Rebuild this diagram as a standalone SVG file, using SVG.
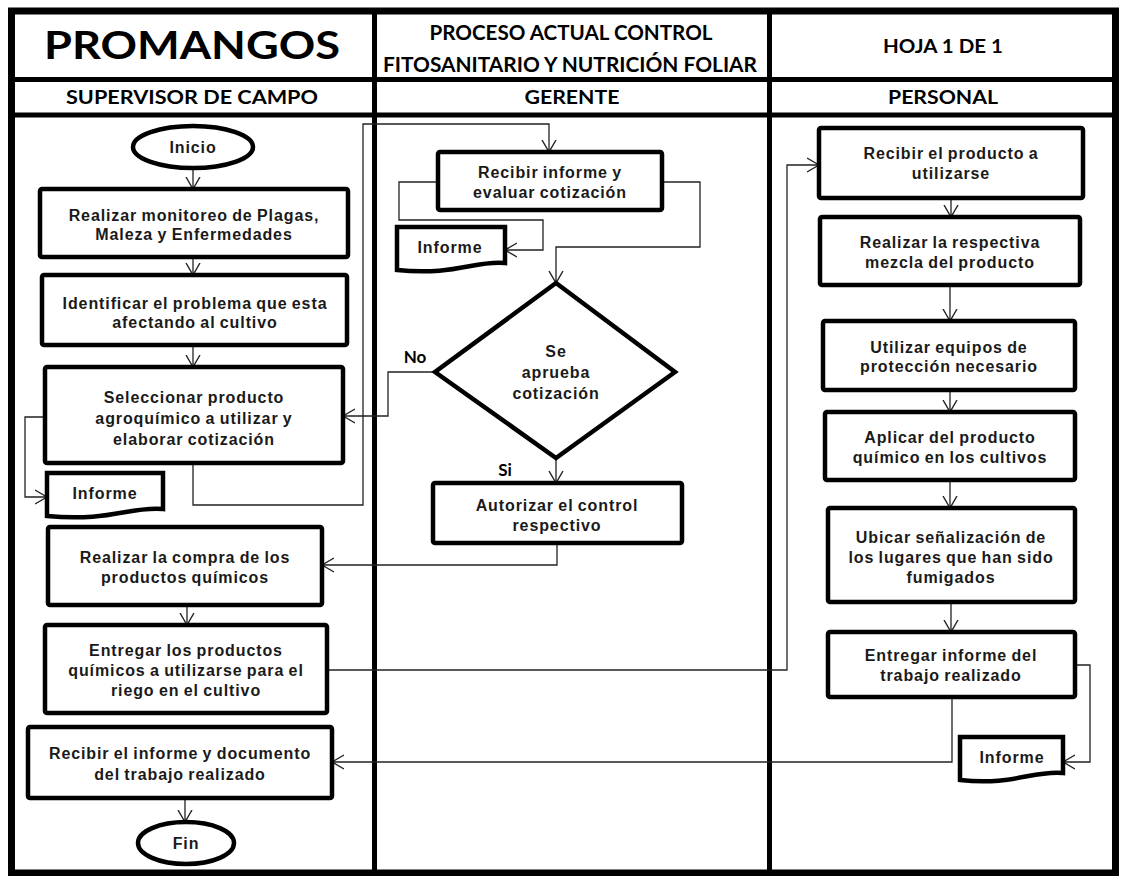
<svg xmlns="http://www.w3.org/2000/svg" width="1121" height="876" viewBox="0 0 1121 876">
<style>
.frame{fill:none;stroke:#000;stroke-width:7}
.div{stroke:#000;stroke-width:5;fill:none}
.box{fill:#fff;stroke:#000;stroke-width:4.5}
.c{fill:none;stroke:#222;stroke-width:1.3}
.t{font-family:"Liberation Sans",Arial,sans-serif;font-weight:bold;font-size:16px;letter-spacing:0.9px;word-spacing:-1px;text-anchor:middle;fill:#1a1a1a}
.h{font-family:Lato,"Open Sans",sans-serif;font-weight:bold;text-anchor:middle;fill:#000}
.lbl{font-family:Lato,"Open Sans",sans-serif;font-weight:bold;font-size:17px;text-anchor:middle;fill:#000}
</style>
<defs>
<marker id="ar" viewBox="0 0 12 16" refX="12" refY="8" markerWidth="12" markerHeight="16" markerUnits="userSpaceOnUse" orient="auto">
<path d="M0,1 L12,8 L0,15" fill="none" stroke="#222" stroke-width="1.4"/>
</marker>
</defs>
<rect width="1121" height="876" fill="#fff"/>

<g id="frame">
<rect class="frame" x="11.5" y="11" width="1104" height="862"/>
<line class="div" x1="374.5" y1="11" x2="374.5" y2="873"/>
<line class="div" x1="769.5" y1="11" x2="769.5" y2="873"/>
<line class="div" x1="11" y1="79.5" x2="1115" y2="79.5" stroke-width="4.5"/>
<line class="div" x1="11" y1="115" x2="1115" y2="115"/>
<text class="h" x="192" y="59" font-size="38" textLength="296" lengthAdjust="spacingAndGlyphs">PROMANGOS</text>
<text class="h" x="571" y="40" font-size="20" textLength="283" lengthAdjust="spacingAndGlyphs">PROCESO ACTUAL CONTROL</text>
<text class="h" x="570" y="72" font-size="20" textLength="374" lengthAdjust="spacingAndGlyphs">FITOSANITARIO Y NUTRICIÓN FOLIAR</text>
<text class="h" x="943" y="53" font-size="19" textLength="120" lengthAdjust="spacingAndGlyphs">HOJA 1 DE 1</text>
<text class="h" x="192" y="104" font-size="19" textLength="252" lengthAdjust="spacingAndGlyphs">SUPERVISOR DE CAMPO</text>
<text class="h" x="572" y="104" font-size="19" textLength="95" lengthAdjust="spacingAndGlyphs">GERENTE</text>
<text class="h" x="943" y="104" font-size="19" textLength="110" lengthAdjust="spacingAndGlyphs">PERSONAL</text>
</g>

<g id="connectors">
<path class="c" d="M193,168 V189" marker-end="url(#ar)"/>
<path class="c" d="M193,257 V275" marker-end="url(#ar)"/>
<path class="c" d="M193,345 V367" marker-end="url(#ar)"/>
<path class="c" d="M45,417 H25 V497 H47" marker-end="url(#ar)"/>
<path class="c" d="M193,463 V505 H363 V124 H549 V152" marker-end="url(#ar)"/>
<path class="c" d="M438,182 H399 V220 H543 V250 H505" marker-end="url(#ar)"/>
<path class="c" d="M662,182 H700 V247 H556 V283" marker-end="url(#ar)"/>
<path class="c" d="M435,372 H388 V416 H343" marker-end="url(#ar)"/>
<path class="c" d="M556,458 V483" marker-end="url(#ar)"/>
<path class="c" d="M557,543 V565 H322" marker-end="url(#ar)"/>
<path class="c" d="M187,605 V625" marker-end="url(#ar)"/>
<path class="c" d="M327,670 H787 V165 H819" marker-end="url(#ar)"/>
<path class="c" d="M951,198 V217" marker-end="url(#ar)"/>
<path class="c" d="M950,285 V321" marker-end="url(#ar)"/>
<path class="c" d="M950,390 V412" marker-end="url(#ar)"/>
<path class="c" d="M950,480 V508" marker-end="url(#ar)"/>
<path class="c" d="M951,602 V632" marker-end="url(#ar)"/>
<path class="c" d="M1075,665 H1090 V762 H1063" marker-end="url(#ar)"/>
<path class="c" d="M952,697 V762 H332" marker-end="url(#ar)"/>
<path class="c" d="M185,798 V822" marker-end="url(#ar)"/>
<text class="lbl" x="415" y="363">No</text>
<text class="lbl" x="505" y="476">Si</text>
</g>

<g id="inicio">
<ellipse class="box" cx="193" cy="147" rx="60" ry="21"/>
<text class="t" x="193" y="153">Inicio</text>
</g>
<g id="b1">
<rect class="box" x="40" y="189" width="308" height="68" rx="2"/>
<text class="t" x="194" y="221">Realizar monitoreo de Plagas,</text>
<text class="t" x="194" y="240">Maleza y Enfermedades</text>
</g>
<g id="b2">
<rect class="box" x="42" y="275" width="305" height="70" rx="2"/>
<text class="t" x="195" y="309">Identificar el problema que esta</text>
<text class="t" x="195" y="328">afectando al cultivo</text>
</g>
<g id="b3">
<rect class="box" x="45" y="367" width="298" height="96" rx="2"/>
<text class="t" x="194" y="403">Seleccionar producto</text>
<text class="t" x="194" y="424">agroquímico a utilizar y</text>
<text class="t" x="194" y="445">elaborar cotización</text>
</g>
<g id="doc1">
<path class="box" d="M47,473 H163 V509 C130,506 110,522 47,516 Z"/>
<text class="t" x="105" y="499">Informe</text>
</g>
<g id="b4">
<rect class="box" x="48" y="527" width="274" height="78" rx="2"/>
<text class="t" x="185" y="563">Realizar la compra de los</text>
<text class="t" x="185" y="583">productos químicos</text>
</g>
<g id="b5">
<rect class="box" x="45" y="625" width="282" height="88" rx="2"/>
<text class="t" x="186" y="656">Entregar los productos</text>
<text class="t" x="186" y="676">químicos a utilizarse para el</text>
<text class="t" x="186" y="696">riego en el cultivo</text>
</g>
<g id="b6">
<rect class="box" x="28" y="727" width="304" height="71" rx="2"/>
<text class="t" x="180" y="759">Recibir el informe y documento</text>
<text class="t" x="180" y="780">del trabajo realizado</text>
</g>
<g id="fin">
<ellipse class="box" cx="186" cy="843" rx="48" ry="21"/>
<text class="t" x="186" y="849">Fin</text>
</g>

<g id="g1">
<rect class="box" x="438" y="152" width="224" height="58" rx="2"/>
<text class="t" x="550" y="178">Recibir informe y</text>
<text class="t" x="550" y="198">evaluar cotización</text>
</g>
<g id="doc2">
<path class="box" d="M397,227 H505 V263 C475,260 455,276 397,270 Z"/>
<text class="t" x="450" y="253">Informe</text>
</g>
<g id="decision">
<path class="box" d="M556,283 L675,372 L556,458 L435,372 Z"/>
<text class="t" x="556" y="357">Se</text>
<text class="t" x="556" y="378">aprueba</text>
<text class="t" x="556" y="399">cotización</text>
</g>
<g id="g2">
<rect class="box" x="433" y="483" width="249" height="60" rx="2"/>
<text class="t" x="557" y="511">Autorizar el control</text>
<text class="t" x="557" y="531">respectivo</text>
</g>

<g id="p1">
<rect class="box" x="819" y="128" width="264" height="70" rx="2"/>
<text class="t" x="951" y="159">Recibir el producto a</text>
<text class="t" x="951" y="179">utilizarse</text>
</g>
<g id="p2">
<rect class="box" x="820" y="217" width="260" height="68" rx="2"/>
<text class="t" x="950" y="248">Realizar la respectiva</text>
<text class="t" x="950" y="268">mezcla del producto</text>
</g>
<g id="p3">
<rect class="box" x="823" y="321" width="252" height="69" rx="2"/>
<text class="t" x="949" y="353">Utilizar equipos de</text>
<text class="t" x="949" y="372">protección necesario</text>
</g>
<g id="p4">
<rect class="box" x="825" y="412" width="250" height="68" rx="2"/>
<text class="t" x="950" y="443">Aplicar del producto</text>
<text class="t" x="950" y="463">químico en los cultivos</text>
</g>
<g id="p5">
<rect class="box" x="828" y="508" width="247" height="94" rx="2"/>
<text class="t" x="951" y="543">Ubicar señalización de</text>
<text class="t" x="951" y="563">los lugares que han sido</text>
<text class="t" x="951" y="583">fumigados</text>
</g>
<g id="p6">
<rect class="box" x="828" y="632" width="247" height="65" rx="2"/>
<text class="t" x="951" y="661">Entregar informe del</text>
<text class="t" x="951" y="681">trabajo realizado</text>
</g>
<g id="doc3">
<path class="box" d="M960,737 H1063 V773 C1033,770 1013,786 960,780 Z"/>
<text class="t" x="1012" y="763">Informe</text>
</g>
</svg>
